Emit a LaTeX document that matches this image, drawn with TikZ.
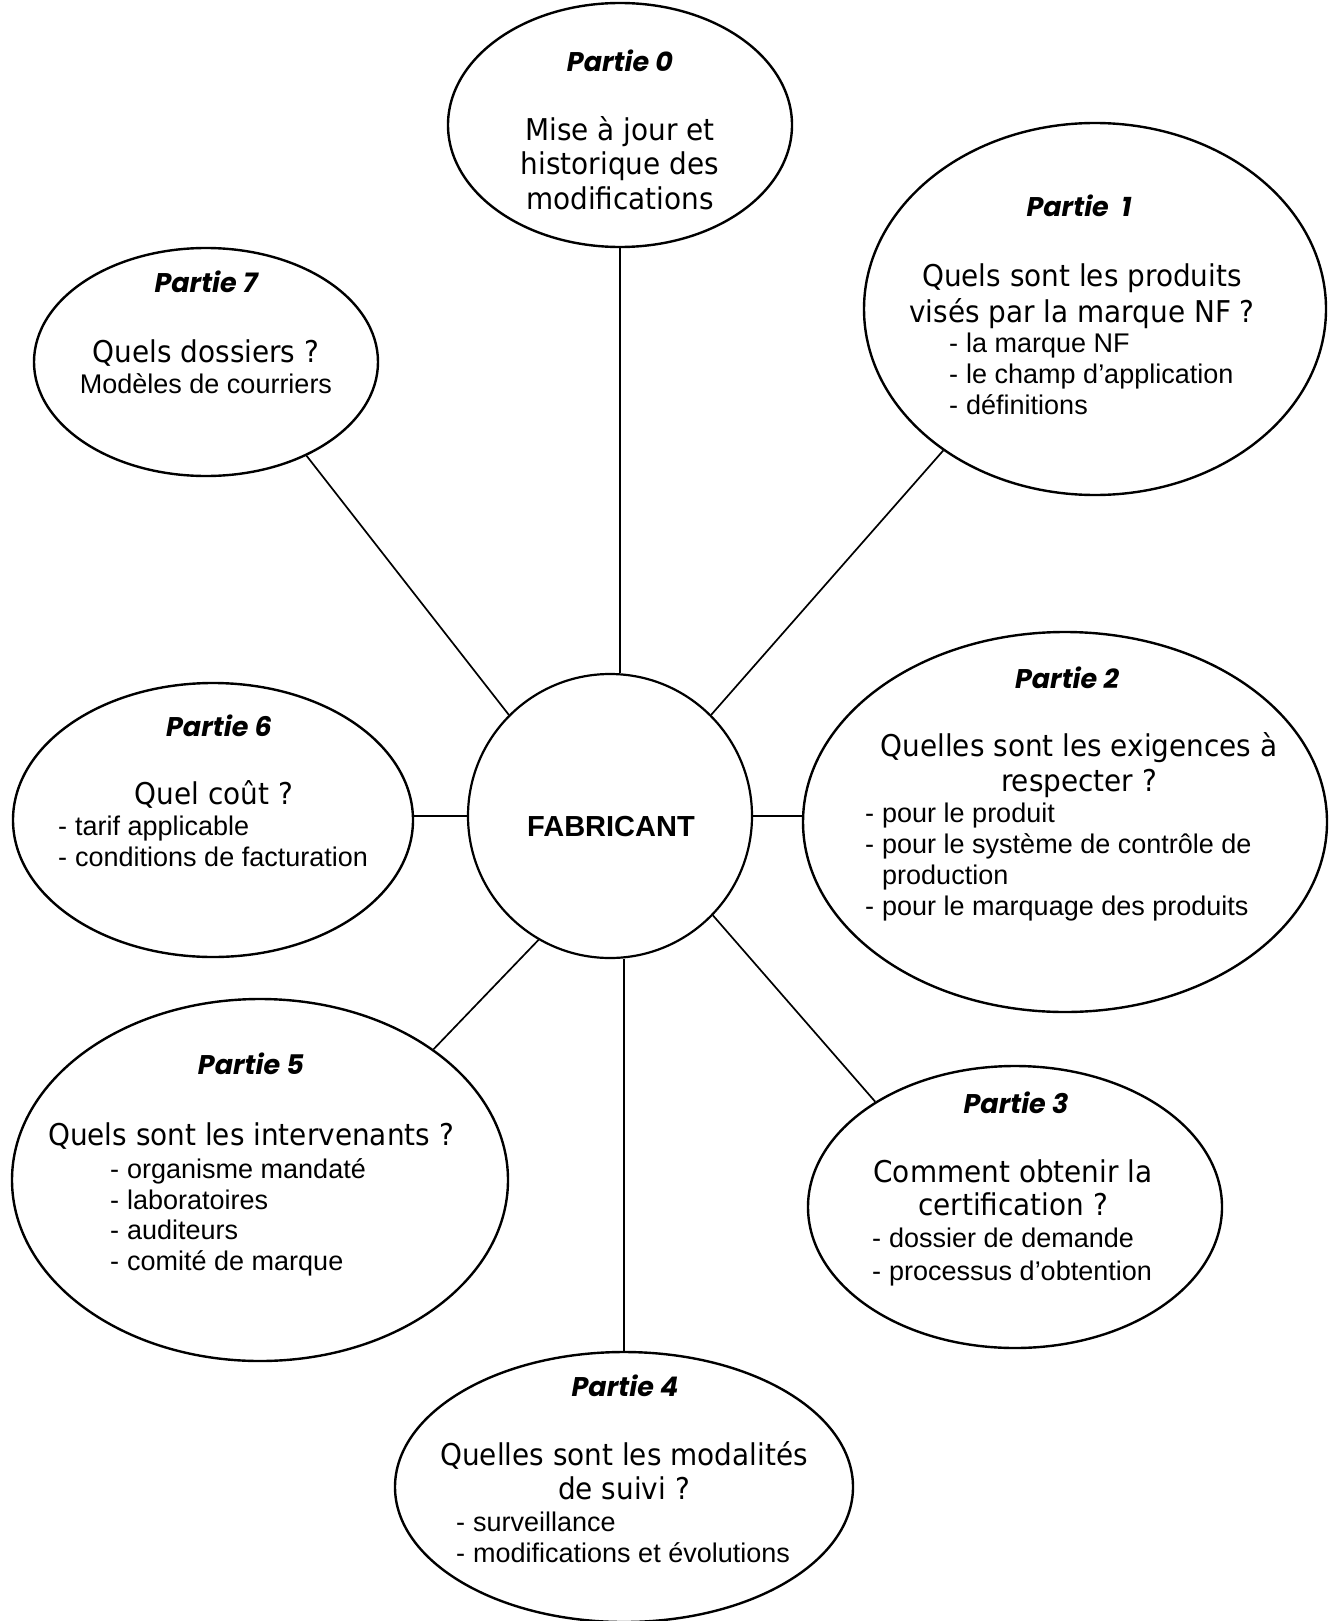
\documentclass[tikz,border=0pt]{standalone}
\usepackage{fontspec}
\setmainfont{Liberation Sans}
\newfontfamily\qfont{DejaVu Sans}[FakeStretch=0.93]
\newfontfamily\bltfont{Liberation Sans}
\newfontfamily\partfont{Poppins}
\usetikzlibrary{shapes.geometric}
\newcommand\bulletdash{\makebox[17pt][l]{-}}
\begin{document}
\begin{tikzpicture}[x=1pt,y=-1pt,
  ell/.style={draw, ellipse, line width=2.4pt, inner sep=0pt},
  hub/.style={draw, circle, line width=2.2pt, inner sep=0pt, minimum size=284pt},
  link/.style={line width=1.7pt},
  parttxt/.style={anchor=base, inner sep=0pt, font=\partfont\bfseries\itshape\fontsize{27}{30}\selectfont},
  qtxt/.style={anchor=base, inner sep=0pt, font=\qfont\fontsize{30}{34}\selectfont},
  bltxt/.style={anchor=base west, inner sep=0pt, font=\bltfont\fontsize{27}{31}\selectfont},
  ctxt/.style={anchor=base, inner sep=0pt, font=\bltfont\fontsize{27}{31}\selectfont}]
\useasboundingbox (0,0) rectangle (1329,1621);

% hub
\node[hub] (c) at (610,816) {};
\node[anchor=base, inner sep=0pt, font=\bltfont\bfseries\fontsize{29}{34}\selectfont] (ct) at (611,836) {FABRICANT};

% ellipses
\node[ell, minimum width=344pt, minimum height=244pt] (p0) at (620,125) {};
\node[ell, minimum width=462pt, minimum height=372pt] (p1) at (1095,309) {};
\node[ell, minimum width=344pt, minimum height=228pt] (p7) at (206,362) {};
\node[ell, minimum width=400pt, minimum height=274pt] (p6) at (213,820) {};
\node[ell, minimum width=524pt, minimum height=380pt] (p2) at (1065,822) {};
\node[ell, minimum width=414pt, minimum height=282pt] (p3) at (1015,1207) {};
\node[ell, minimum width=458pt, minimum height=270pt] (p4) at (624,1487) {};
\node[ell, minimum width=496pt, minimum height=362pt] (p5) at (260,1180) {};

% connectors
\draw[link] (p0.south) -- (p0.south |- c.north);
\draw[link] (c.45) -- (p1.223);
\draw[link] (c.135) -- (p7.-43);
\draw[link] (c.west) -- (c.west -| p6.east);
\draw[link] (c.east) -- (c.east -| p2.west);
\draw[link] (c.-44) -- (p3.143);
\draw[link] (p4.north) -- (p4.north |- c.south);
\draw[link] (c.-120) -- (p5.37);

% Partie 0
\node[parttxt] (p0t) at (620,72) {Partie 0};
\node[qtxt] (p0q1) at (620,141) {Mise à jour et};
\node[qtxt] (p0q2) at (620,175) {historique des};
\node[qtxt] (p0q3) at (620,210) {modifications};

% Partie 1
\node[parttxt] (p1t) at (1079,217) {Partie\ \ 1};
\node[qtxt] (p1q1) at (1082,287) {Quels sont les produits};
\node[qtxt] (p1q2) at (1082,322) {visés par la marque NF ?};
\node[bltxt] (p1b1) at (949,352) {\bulletdash la marque NF};
\node[bltxt] (p1b2) at (949,383) {\bulletdash le champ d’application};
\node[bltxt] (p1b3) at (949,414) {\bulletdash définitions};

% Partie 7
\node[parttxt] (p7t) at (206,292) {Partie 7};
\node[qtxt] (p7q1) at (206,362) {Quels dossiers ?};
\node[ctxt] (p7c1) at (206,393) {Modèles de courriers};

% Partie 6
\node[parttxt] (p6t) at (219,736) {Partie 6};
\node[qtxt] (p6q1) at (214,804) {Quel coût ?};
\node[bltxt] (p6b1) at (58,835) {\bulletdash tarif applicable};
\node[bltxt] (p6b2) at (58,866) {\bulletdash conditions de facturation};

% Partie 2
\node[parttxt] (p2t) at (1067,688) {Partie 2};
\node[qtxt] (p2q1) at (1079,756) {Quelles sont les exigences à};
\node[qtxt] (p2q2) at (1079,791) {respecter ?};
\node[bltxt] (p2b1) at (865,822) {\bulletdash pour le produit};
\node[bltxt] (p2b2) at (865,853) {\bulletdash pour le système de contrôle de};
\node[bltxt] (p2b3) at (865,884) {\hphantom{\bulletdash}production};
\node[bltxt] (p2b4) at (865,915) {\bulletdash pour le marquage des produits};

% Partie 3
\node[parttxt] (p3t) at (1016,1113) {Partie 3};
\node[qtxt] (p3q1) at (1013,1182) {Comment obtenir la};
\node[qtxt] (p3q2) at (1013,1215) {certification ?};
\node[bltxt] (p3b1) at (872,1247) {\bulletdash dossier de demande};
\node[bltxt] (p3b2) at (872,1280) {\bulletdash processus d’obtention};

% Partie 4
\node[parttxt] (p4t) at (625,1396) {Partie 4};
\node[qtxt] (p4q1) at (624,1465) {Quelles sont les modalités};
\node[qtxt] (p4q2) at (624,1499) {de suivi ?};
\node[bltxt] (p4b1) at (456,1531) {\bulletdash surveillance};
\node[bltxt] (p4b2) at (456,1562) {\bulletdash modifications et évolutions};

% Partie 5
\node[parttxt] (p5t) at (251,1074) {Partie 5};
\node[qtxt] (p5q1) at (251,1145) {Quels sont les intervenants ?};
\node[bltxt] (p5b1) at (110,1178) {\bulletdash organisme mandaté};
\node[bltxt] (p5b2) at (110,1209) {\bulletdash laboratoires};
\node[bltxt] (p5b3) at (110,1239) {\bulletdash auditeurs};
\node[bltxt] (p5b4) at (110,1270) {\bulletdash comité de marque};
\end{tikzpicture}
\end{document}
